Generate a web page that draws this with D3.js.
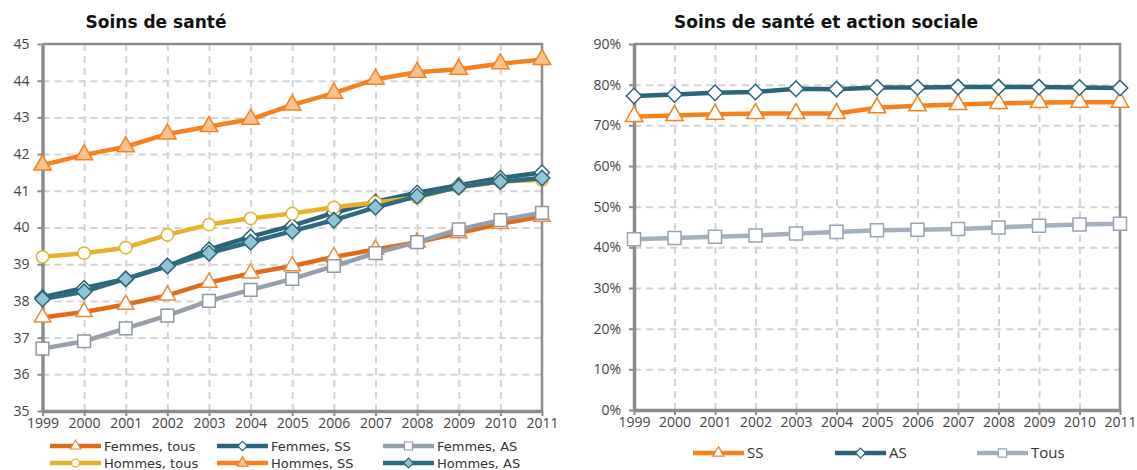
<!DOCTYPE html>
<html>
<head>
<meta charset="utf-8">
<script src="https://cdn.jsdelivr.net/npm/d3@7"></script>
<style>
  body { margin: 0; background: #fff; }
  svg { display: block; }
  .title { font-family: "DejaVu Sans", sans-serif; font-weight: bold; font-size: 17px; fill: #111; }
  .axis text { font-family: "Open Sans", sans-serif; font-size: 14px; fill: #444; }
  .axis path, .axis line { stroke: #8c8c8c; }
  .grid line { stroke: #d4d4d4; stroke-width: 2; stroke-dasharray: 7,5; }
  .grid path { display: none; }
  .legend text { fill: #333; }
</style>
</head>
<body>
<svg id="chart" width="1137" height="470"></svg>
<script>
var years = [1999, 2000, 2001, 2002, 2003, 2004, 2005, 2006, 2007, 2008, 2009, 2010, 2011];

// left chart: age moyen
var femmesTous  = [37.55, 37.7, 37.9, 38.15, 38.5, 38.75, 38.95, 39.2, 39.4, 39.6, 39.85, 40.1, 40.3];
var femmesSS    = [38.1, 38.35, 38.6, 38.95, 39.4, 39.75, 40.05, 40.4, 40.7, 40.95, 41.15, 41.35, 41.5];
var femmesAS    = [36.7, 36.9, 37.25, 37.6, 38.0, 38.3, 38.6, 38.95, 39.3, 39.6, 39.95, 40.2, 40.4];
var hommesTous  = [39.2, 39.3, 39.45, 39.8, 40.08, 40.25, 40.38, 40.55, 40.68, 40.82, 41.1, 41.25, 41.3];
var hommesSS    = [41.7, 41.98, 42.2, 42.55, 42.75, 42.95, 43.34, 43.66, 44.04, 44.23, 44.31, 44.46, 44.58];
var hommesAS    = [38.05, 38.25, 38.6, 38.95, 39.3, 39.6, 39.9, 40.2, 40.55, 40.85, 41.1, 41.25, 41.35];
var leftTicks = [35, 36, 37, 38, 39, 40, 41, 42, 43, 44, 45];

// right chart: part des femmes (%)
var partSS   = [72.2, 72.4, 72.7, 72.9, 72.9, 72.9, 74.3, 74.8, 75.1, 75.4, 75.6, 75.7, 75.7];
var partAS   = [77.2, 77.6, 78.0, 78.2, 79.0, 78.9, 79.3, 79.3, 79.4, 79.4, 79.4, 79.3, 79.2];
var partTous = [42.0, 42.3, 42.6, 42.9, 43.4, 43.8, 44.2, 44.3, 44.5, 44.9, 45.3, 45.6, 45.8];
var rightTicks = [0, 10, 20, 30, 40, 50, 60, 70, 80, 90];

var svg = d3.select('#chart');

// diamond = square turned 45 degrees
var diamondSym = {
  draw: function(ctx, size) {
    var r = Math.sqrt(size / 2);
    ctx.moveTo(0, -r); ctx.lineTo(r, 0); ctx.lineTo(0, r); ctx.lineTo(-r, 0); ctx.closePath();
  }
};

var leftSeries = [
  { name: 'Femmes, tous', values: femmesTous, line: '#e06c1a', stroke: '#f08a3a', fill: '#fff', sym: d3.symbolTriangle, size: 115 },
  { name: 'Femmes, SS', values: femmesSS, line: '#2b6579', stroke: '#2b6579', fill: '#fff', sym: diamondSym, size: 110 },
  { name: 'Femmes, AS', values: femmesAS, line: '#979fab', stroke: '#8e98a6', fill: '#fff', sym: d3.symbolSquare, size: 160 },
  { name: 'Hommes, tous', values: hommesTous, line: '#e6b22d', stroke: '#e6b22d', fill: '#fff', sym: d3.symbolCircle, size: 120 },
  { name: 'Hommes, SS', values: hommesSS, line: '#f5821f', stroke: '#f5821f', fill: '#fbc18f', sym: d3.symbolTriangle, size: 130 },
  { name: 'Hommes, AS', values: hommesAS, line: '#2f6c80', stroke: '#2b6579', fill: '#8fc4d6', sym: diamondSym, size: 120 }
];

var rightSeries = [
  { name: 'SS', values: partSS, line: '#f5821f', stroke: '#f5821f', fill: '#fff', sym: d3.symbolTriangle, size: 130 },
  { name: 'AS', values: partAS, line: '#2b6579', stroke: '#2b6579', fill: '#fff', sym: diamondSym, size: 120 },
  { name: 'Tous', values: partTous, line: '#a5b0bf', stroke: '#97a3b3', fill: '#fff', sym: d3.symbolSquare, size: 170 }
];

function drawPanel(opts) {
  var x = d3.scaleLinear().domain([years[0], years[years.length - 1]]).range([opts.x0, opts.x1]);
  var y = d3.scaleLinear().domain([opts.ticks[0], opts.ticks[opts.ticks.length - 1]]).range([opts.y1, opts.y0]);
  var g = svg.append('g');

  // grid
  g.append('g').attr('class', 'grid')
    .attr('transform', 'translate(' + opts.x0 + ',0)')
    .call(d3.axisLeft(y).tickValues(opts.ticks.slice(1, -1)).tickSize(-(opts.x1 - opts.x0)).tickFormat(''));
  g.append('g').attr('class', 'grid')
    .attr('transform', 'translate(0,' + opts.y1 + ')')
    .call(d3.axisBottom(x).tickValues(years.slice(1, -1)).tickSize(-(opts.y1 - opts.y0)).tickFormat(''));

  // frame top and right
  g.append('path')
    .attr('d', 'M' + opts.x0 + ',' + opts.y0 + 'H' + opts.x1 + 'V' + opts.y1)
    .attr('fill', 'none').attr('stroke', '#8c8c8c').attr('stroke-width', 2.5);

  // axes
  var ay = g.append('g').attr('class', 'axis')
    .attr('transform', 'translate(' + opts.x0 + ',0)')
    .call(d3.axisLeft(y).tickValues(opts.ticks).tickSize(5).tickSizeOuter(0).tickPadding(8).tickFormat(opts.fmt));
  ay.select('.domain').attr('stroke-width', 3.5);
  ay.selectAll('line').attr('stroke-width', 2);
  var ax = g.append('g').attr('class', 'axis')
    .attr('transform', 'translate(0,' + opts.y1 + ')')
    .call(d3.axisBottom(x).tickValues(years).tickSize(5).tickSizeOuter(0).tickPadding(2).tickFormat(d3.format('d')));
  ax.select('.domain').attr('stroke-width', 3.5);
  ax.selectAll('line').attr('stroke-width', 2);

  // title
  g.append('text').attr('class', 'title')
    .attr('x', opts.titleX).attr('y', 28)
    .attr('text-anchor', 'middle')
    .text(opts.title);

  var line = d3.line().x(function(d, i) { return x(years[i]); }).y(function(d) { return y(d); });

  opts.series.forEach(function(s) {
    var sg = g.append('g');
    sg.append('path').attr('d', line(s.values))
      .attr('fill', 'none').attr('stroke', s.line).attr('stroke-width', 4.5).attr('stroke-linejoin', 'round');
    sg.selectAll('path.mk').data(s.values).enter().append('path')
      .attr('class', 'mk')
      .attr('transform', function(d, i) { return 'translate(' + x(years[i]) + ',' + y(d) + ')'; })
      .attr('d', d3.symbol().type(s.sym).size(s.size))
      .attr('fill', s.fill).attr('stroke', s.stroke).attr('stroke-width', 1.5);
  });

  // legend
  var lg = g.append('g').attr('class', 'legend');
  opts.series.forEach(function(s, i) {
    var p = opts.legendPos(i);
    var it = lg.append('g').attr('transform', 'translate(' + p[0] + ',' + p[1] + ')');
    it.append('line').attr('x1', 0).attr('x2', 51).attr('y1', 0).attr('y2', 0)
      .attr('stroke', s.line).attr('stroke-width', 4.5);
    it.append('path').attr('transform', 'translate(25.5,0)')
      .attr('d', d3.symbol().type(s.sym).size(s.size * 0.4))
      .attr('fill', s.fill).attr('stroke', s.stroke).attr('stroke-width', 1.2);
    it.append('text').attr('x', 54).attr('y', 5)
      .style('font-family', opts.legendFont)
      .style('font-size', opts.legendSize)
      .text(s.name);
  });
}

drawPanel({
  x0: 42.5, x1: 542, y0: 44, y1: 411,
  ticks: leftTicks, fmt: d3.format('d'),
  title: 'Soins de santé', titleX: 156,
  series: leftSeries,
  legendFont: '"DejaVu Sans", sans-serif',
  legendSize: '13px',
  legendPos: function(i) {
    var col = [50, 217, 383][i % 3];
    var row = i < 3 ? 446 : 463;
    return [col, row];
  }
});

drawPanel({
  x0: 634, x1: 1120, y0: 44, y1: 410,
  ticks: rightTicks, fmt: function(d) { return d + '%'; },
  title: 'Soins de santé et action sociale', titleX: 826,
  series: rightSeries,
  legendFont: '"Open Sans", sans-serif',
  legendSize: '15px',
  legendPos: function(i) {
    return [[693, 835, 977][i], 453];
  }
});
</script>
</body>
</html>
